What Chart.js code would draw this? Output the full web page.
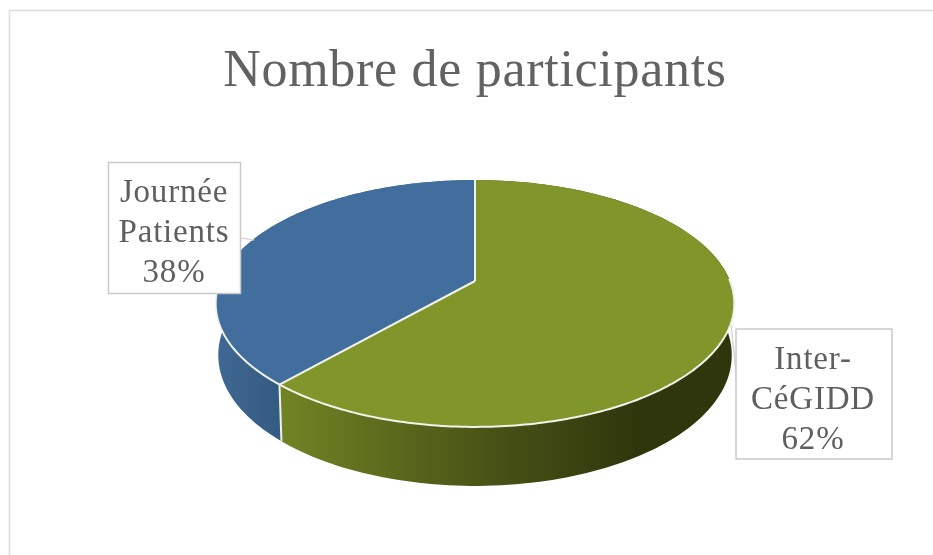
<!DOCTYPE html>
<html lang="fr">
<head>
<meta charset="utf-8">
<script src="https://cdn.jsdelivr.net/npm/chart.js@4/dist/chart.umd.js"></script>
<style>
html,body{margin:0;padding:0;background:#fff}
canvas{display:block;filter:blur(0.6px)}
</style>
</head>
<body>
<canvas id="c" width="933" height="555"></canvas>
<script>
const titleText = "Nombre de participants";
const categories = ["Inter-CéGIDD", "Journée Patients"];
const values = [62, 38];
const faceColors = ["#80962A", "#416E9C"];

const TILT = 0.468, PERSP = -0.182, WARP = 0.035;
const SERIF = '"Liberation Serif", serif';

function project(arc, a0) {
  const a = a0 - WARP * (1 - Math.cos(a0 + Math.PI / 2)) / 2;
  const c = Math.cos(a), s = Math.sin(a), w = 1 + PERSP * s, R = arc.outerRadius;
  return { x: arc.x + R * c / w, y: arc.y + R * TILT * s / w, ny: s };
}
function projectLow(arc, a) {
  const p = project(arc, a);
  return { x: arc.x + (p.x - arc.x) * 0.99, y: p.y + 50 + 9 * p.ny };
}
function arcPoints(arc, fn, reverse) {
  const n = 160, pts = [];
  for (let i = 0; i <= n; i++) {
    const t = reverse ? 1 - i / n : i / n;
    pts.push(fn(arc, arc.startAngle + (arc.endAngle - arc.startAngle) * t));
  }
  return pts;
}
function trace(ctx, pts, move) {
  pts.forEach((p, i) => (i === 0 && move) ? ctx.moveTo(p.x, p.y) : ctx.lineTo(p.x, p.y));
}

const pie3d = {
  id: "pie3d",
  beforeDraw(chart) {
    const ctx = chart.ctx;
    ctx.save();
    ctx.strokeStyle = "#dcdcdc";
    ctx.lineWidth = 1.5;
    ctx.beginPath();
    ctx.moveTo(9.5, 555);
    ctx.lineTo(9.5, 10.5);
    ctx.lineTo(933, 10.5);
    ctx.stroke();
    ctx.restore();
    ctx.letterSpacing = "0.7px";
  },
  beforeDatasetsDraw(chart) {
    const ctx = chart.ctx, arcs = chart.getDatasetMeta(0).data;
    ctx.save();
    ctx.lineJoin = "round";
    const green = ctx.createLinearGradient(280, 0, 640, 0);
    green.addColorStop(0, "#718424");
    green.addColorStop(0.55, "#4B5517");
    green.addColorStop(1, "#2F360C");
    const blue = ctx.createLinearGradient(216, 0, 284, 0);
    blue.addColorStop(0, "#3F6893");
    blue.addColorStop(1, "#345A80");
    const walls = [green, blue];
    // side walls
    arcs.forEach((arc, i) => {
      ctx.beginPath();
      trace(ctx, arcPoints(arc, project, false), true);
      trace(ctx, arcPoints(arc, projectLow, true), false);
      ctx.closePath();
      ctx.fillStyle = walls[i];
      ctx.fill();
    });
    // top faces
    arcs.forEach((arc, i) => {
      ctx.beginPath();
      ctx.moveTo(arc.x, arc.y);
      trace(ctx, arcPoints(arc, project, false), false);
      ctx.closePath();
      ctx.fillStyle = faceColors[i];
      ctx.fill();
    });
    // light seams
    ctx.strokeStyle = "#F2F2EA";
    ctx.lineWidth = 2;
    const seam = arcs[1].startAngle;
    const top = project(arcs[0], seam), low = projectLow(arcs[0], seam);
    ctx.beginPath();
    ctx.moveTo(arcs[0].x, arcs[0].y);
    ctx.lineTo(top.x, top.y);
    ctx.lineTo(low.x, low.y);
    ctx.moveTo(arcs[0].x, arcs[0].y);
    const edge = project(arcs[0], arcs[0].startAngle);
    ctx.lineTo(edge.x, edge.y);
    ctx.stroke();
    ctx.beginPath();
    let started = false;
    for (let a = 0; a <= Math.PI; a += Math.PI / 200) {
      const p = project(arcs[0], a);
      if (!started) { ctx.moveTo(p.x, p.y); started = true; } else ctx.lineTo(p.x, p.y);
    }
    ctx.stroke();
    drawLabels(chart, ctx, arcs);
    ctx.restore();
    return false;
  }
};

function drawLabels(chart, ctx, arcs) {
  const total = values.reduce((a, b) => a + b, 0);
  const boxes = [
    { l: 736, t: 329, w: 156, h: 130, cx: 813, lead: [[731, 325], [737, 382]] },
    { l: 108.5, t: 162.5, w: 132, h: 131, cx: 174, lead: [[241, 238], [254, 240]] }
  ];
  boxes.forEach((b, i) => {
    ctx.strokeStyle = "#D9D9D9";
    ctx.lineWidth = 1.5;
    ctx.beginPath();
    ctx.moveTo(b.lead[0][0], b.lead[0][1]);
    ctx.lineTo(b.lead[1][0], b.lead[1][1]);
    ctx.stroke();
    ctx.fillStyle = "#FFFFFF";
    ctx.fillRect(b.l, b.t, b.w, b.h);
    ctx.strokeStyle = "#C9C9C9";
    ctx.lineWidth = 1.5;
    ctx.strokeRect(b.l, b.t, b.w, b.h);
    const lines = categories[i].split(/(?<=-)|\s+/).concat(Math.round(values[i] / total * 100) + "%");
    ctx.fillStyle = "#5F5F5F";
    ctx.font = "33px " + SERIF;
    ctx.textAlign = "center";
    ctx.textBaseline = "alphabetic";
    ctx.letterSpacing = "0.8px";
    lines.forEach((s, k) => ctx.fillText(s, b.cx, b.t + 39.5 + k * 40));
    ctx.letterSpacing = "0px";
  });
}

new Chart(document.getElementById("c"), {
  type: "pie",
  data: {
    labels: categories,
    datasets: [{ data: values, backgroundColor: faceColors, borderWidth: 0, hoverOffset: 0 }]
  },
  options: {
    responsive: false,
    animation: false,
    layout: { padding: { left: 220, right: 203, top: 0, bottom: 19 } },
    plugins: {
      legend: { display: false },
      tooltip: { enabled: false },
      title: {
        display: true,
        text: titleText,
        color: "#626262",
        font: { family: SERIF, size: 52, weight: "normal", lineHeight: 1.1 },
        padding: { top: 43.5, bottom: -74.7 },
        fullSize: true
      }
    }
  },
  plugins: [pie3d]
});
</script>
</body>
</html>
